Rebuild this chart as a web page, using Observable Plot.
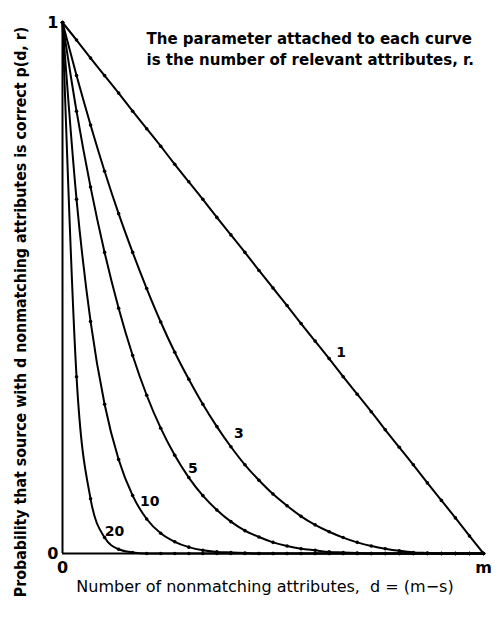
<!DOCTYPE html>
<html>
<head>
<meta charset="utf-8">
<script src="https://cdn.jsdelivr.net/npm/d3@7"></script>
<script src="https://cdn.jsdelivr.net/npm/@observablehq/plot@0.6"></script>
<style>
  html, body { margin: 0; padding: 0; background: #fff; }
  #chart svg { display: block; }
</style>
</head>
<body>
<div id="chart"></div>
<script>
// ---- data ----
const m = 30; // number of attributes (x runs 0 .. m)
const dValues = [0,1,2,3,4,5,6,7,8,9,10,11,12,13,14,15,16,17,18,19,20,21,22,23,24,25,26,27,28,29,30];
const params = [1, 3, 5, 10, 20];
const p_r1  = [1,0.967,0.933,0.9,0.867,0.833,0.8,0.767,0.733,0.7,0.667,0.633,0.6,0.567,0.533,0.5,0.467,0.433,0.4,0.367,0.333,0.3,0.267,0.233,0.2,0.167,0.133,0.1,0.067,0.033,0];
const p_r3  = [1,0.9,0.807,0.72,0.64,0.567,0.499,0.436,0.379,0.328,0.281,0.239,0.201,0.167,0.138,0.112,0.09,0.07,0.054,0.041,0.03,0.021,0.014,0.009,0.005,0.002,0.001,0,0,0,0];
const p_r5  = [1,0.833,0.69,0.567,0.462,0.373,0.298,0.236,0.185,0.143,0.109,0.082,0.06,0.043,0.031,0.021,0.014,0.009,0.006,0.003,0.002,0.001,0,0,0,0,0,0,0,0,0];
const p_r10 = [1,0.667,0.437,0.281,0.177,0.109,0.065,0.038,0.022,0.012,0.006,0.003,0.002,0.001,0,0,0,0,0,0,0,0,0,0,0,0,0,0,0,0,0];
const p_r20 = [1,0.333,0.103,0.03,0.008,0.002,0,0,0,0,0,0,0,0,0,0,0,0,0,0,0,0,0,0,0,0,0,0,0,0,0];
const xTicks = [0, m];
const xTickLabels = ["0", "m"];
const yTicks = [0, 1];
const yTickLabels = ["0", "1"];
const yLabel = "Probability that source with d nonmatching attributes is correct p(d, r)";
const xLabel = "Number of nonmatching attributes,  d = (m\u2212s)";
const note = "The parameter attached to each curve\nis the number of relevant attributes, r.";

// ---- table built from the arrays ----
const seriesValues = [p_r1, p_r3, p_r5, p_r10, p_r20];
const rows = [];
params.forEach((r, i) => dValues.forEach((d, j) => rows.push({r, d, p: seriesValues[i][j]})));

// label placement (layout only): which point of each curve the label sits by
const labelLayout = [
  {r: 1,  at: 19, dx: 12, dy: -6},
  {r: 3,  at: 12, dx: 8,  dy: -13},
  {r: 5,  at: 8,  dx: 18, dy: 13},
  {r: 10, at: 5,  dx: 17, dy: 6},
  {r: 20, at: 3,  dx: 10, dy: -6}
];

const font = "'DejaVu Sans', sans-serif";
const fontC = "'DejaVu Sans Condensed', 'DejaVu Sans', sans-serif";

const labelMarks = labelLayout.map(L => {
  const row = rows.find(o => o.r === L.r && o.d === dValues[L.at]);
  return Plot.text([row], {
    x: "d", y: "p", text: o => String(o.r),
    dx: L.dx, dy: L.dy, fontSize: 14, fontWeight: "bold", fontFamily: font, fill: "black"
  });
});

const chart = Plot.plot({
  width: 502,
  height: 617,
  marginLeft: 62,
  marginRight: 19,
  marginTop: 22,
  marginBottom: 64,
  style: {fontFamily: font, fontSize: "16px", fontWeight: "bold", color: "black", background: "white"},
  x: {domain: [0, m], ticks: xTicks, tickFormat: v => xTickLabels[xTicks.indexOf(v)], tickSize: 0, tickPadding: 8, label: null},
  y: {domain: [0, 1], ticks: yTicks, tickFormat: v => yTickLabels[yTicks.indexOf(v)], tickSize: 0, tickPadding: 4, label: null},
  marks: [
    Plot.ruleY([0], {stroke: "black", strokeWidth: 2}),
    Plot.ruleX([0], {y1: 0, y2: 1, stroke: "black", strokeWidth: 2}),
    Plot.line(rows, {x: "d", y: "p", z: "r", curve: "monotone-x", stroke: "black", strokeWidth: 2}),
    Plot.dot(rows, {x: "d", y: "p", r: 1.8, fill: "black", stroke: "none"}),
    ...labelMarks,
    Plot.text([yLabel], {frameAnchor: "left", textAnchor: "middle", lineAnchor: "middle", dx: -42, dy: 24, rotate: -90, fontSize: 15.8, fontWeight: "bold", fontFamily: fontC, fill: "black"}),
    Plot.text([xLabel], {frameAnchor: "bottom", textAnchor: "middle", lineAnchor: "middle", dx: -8, dy: 33, fontSize: 16, fontWeight: "normal", fontFamily: font, fill: "black"}),
    Plot.text([note], {frameAnchor: "top-left", dx: 84, dy: 7, textAnchor: "start", lineAnchor: "top", lineHeight: 1.4, fontSize: 15, fontWeight: "bold", fontFamily: font, fill: "black"})
  ]
});
document.getElementById("chart").appendChild(chart);
</script>
</body>
</html>
